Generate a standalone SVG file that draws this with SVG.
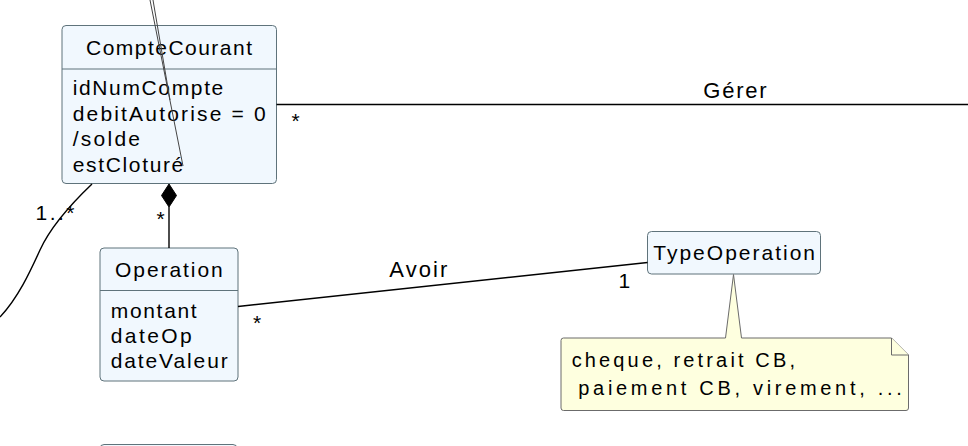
<svg xmlns="http://www.w3.org/2000/svg" width="968" height="446" viewBox="0 0 968 446">
<style>
.cls{fill:#F1F8FE;stroke:#5F737B;stroke-width:1}
.sep{stroke:#5F737B;stroke-width:1}
.note{fill:#FEFFDF;stroke:#6B6B6B;stroke-width:1}
.t{font-family:"Liberation Sans",Arial,sans-serif;font-size:21px;fill:#000}
.n{font-family:"Liberation Sans",Arial,sans-serif;font-size:20px;fill:#000}
.lbl{font-family:"Liberation Sans",Arial,sans-serif;font-size:22px;fill:#000}
.m{font-family:"Liberation Sans",Arial,sans-serif;font-size:21px;fill:#000}
.ln{fill:none;stroke:#000;stroke-width:1.4}
</style>
<rect width="968" height="446" fill="#FFFFFF"/>
<g id="CompteCourant">
  <rect class="cls" x="62" y="25.5" width="214.5" height="158" rx="4"/>
  <line class="sep" x1="62" y1="69" x2="276.5" y2="69"/>
  <text class="t" x="86" y="55" textLength="166" lengthAdjust="spacing">CompteCourant</text>
  <text class="t" x="72.7" y="94.5" textLength="150.6" lengthAdjust="spacing">idNumCompte</text>
  <text class="t" x="72.7" y="120.5" textLength="193" lengthAdjust="spacing">debitAutorise = 0</text>
  <text class="t" x="72.7" y="146" textLength="67.3" lengthAdjust="spacing">/solde</text>
  <text class="t" x="72.7" y="171.5" textLength="110.6" lengthAdjust="spacing">estCloturé</text>
</g>
<g id="Operation">
  <rect class="cls" x="100" y="248" width="138" height="133" rx="4"/>
  <line class="sep" x1="100" y1="290.5" x2="238" y2="290.5"/>
  <text class="t" x="115" y="277" textLength="107.7" lengthAdjust="spacing">Operation</text>
  <text class="t" x="110.7" y="317.5" textLength="86" lengthAdjust="spacing">montant</text>
  <text class="t" x="110.7" y="342.5" textLength="81" lengthAdjust="spacing">dateOp</text>
  <text class="t" x="110.7" y="368" textLength="117" lengthAdjust="spacing">dateValeur</text>
</g>
<g id="TypeOperation">
  <rect class="cls" x="647.5" y="231.5" width="173" height="42.5" rx="4"/>
  <text class="t" x="653.3" y="259.5" textLength="161.7" lengthAdjust="spacing">TypeOperation</text>
</g>
<g id="note">
  <path class="note" d="M563.5,338 L725.5,338 L733.5,274.5 L741.5,338 L891.5,338 L908.5,355 L908.5,408 A2.5,2.5 0 0 1 906,410.5 L563.5,410.5 A2.5,2.5 0 0 1 561,408 L561,340.5 A2.5,2.5 0 0 1 563.5,338 Z"/>
  <path class="note" d="M891.5,338 L891.5,355 L908.5,355"/>
  <text class="n" x="571.7" y="366.7" textLength="223.3" lengthAdjust="spacing">cheque, retrait CB,</text>
  <text class="n" x="578.3" y="395" textLength="323.4" lengthAdjust="spacing">paiement CB, virement, ...</text>
</g>
<g id="Partial">
  <rect class="cls" x="100" y="444.5" width="137" height="40" rx="4"/>
</g>
<g id="connectors">
  <path class="ln" d="M276.5,104.5 L968,104.5"/>
  <polygon points="169,184 176.5,195.5 169,207 161.5,195.5" fill="#000" stroke="#000"/>
  <path class="ln" d="M169,207 L169,248"/>
  <path class="ln" d="M238,306.5 L647.5,262.5"/>
  <path class="ln" d="M92,184 C70,205 50,228 40,250 C30,272 18,298 0,317"/>
  <path d="M150,0 L183,166 M153,0 L170,100" fill="none" stroke="#444" stroke-width="1"/>
  <text class="lbl" x="703.3" y="98" textLength="63.4" lengthAdjust="spacing">Gérer</text>
  <text class="m" x="291.5" y="127.5">*</text>
  <text class="m" x="156.5" y="226">*</text>
  <text class="m" x="35.5" y="220" textLength="39" lengthAdjust="spacing">1..*</text>
  <text class="lbl" x="389.3" y="276.7" textLength="58" lengthAdjust="spacing">Avoir</text>
  <text class="m" x="253" y="329.5">*</text>
  <text class="m" x="618.5" y="288">1</text>
</g>
</svg>
